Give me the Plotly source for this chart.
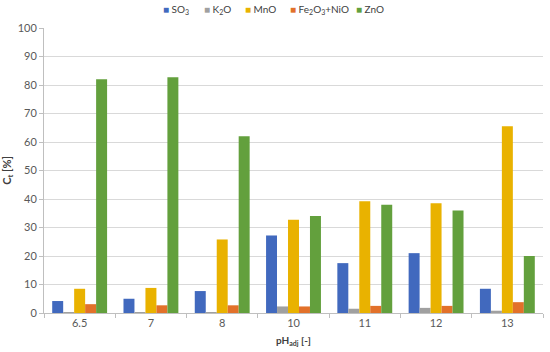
import plotly.graph_objects as go

categories = ["6.5", "7", "8", "10", "11", "12", "13"]
so3 = [4.2, 5.0, 7.7, 27.2, 17.5, 21.0, 8.5]
k2o = [0.3, 0.2, 0.3, 2.3, 1.5, 1.8, 0.8]
mno = [8.5, 8.8, 25.8, 32.7, 39.2, 38.5, 65.5]
fe_ni = [3.1, 2.7, 2.7, 2.3, 2.5, 2.5, 3.8]
zno = [82.0, 82.7, 62.0, 34.0, 38.0, 36.0, 20.0]

series_names = ["SO<sub>3</sub>", "K<sub>2</sub>O", "MnO", "Fe<sub>2</sub>O<sub>3</sub>+NiO", "ZnO"]
series_values = [so3, k2o, mno, fe_ni, zno]
series_colors = ["#4169BE", "#A0A0A0", "#E9B200", "#E2712A", "#63A03D"]
# legend entry start positions (page px, symbol left) in the reference
legend_px = [161, 202, 243, 288, 354]

font = "Lato, 'Open Sans', sans-serif"
L, R, T, B, W, H = 44, 7, 28, 39, 550, 352
pw = W - L - R
ph = H - T - B

fig = go.Figure()
for name, vals, color in zip(series_names, series_values, series_colors):
    fig.add_trace(go.Bar(name=name, x=categories, y=vals, marker_color=color,
                         marker_line_width=0))

annotations = []
for name, color, px in zip(series_names, series_colors, legend_px):
    annotations.append(dict(
        xref="paper", yref="paper", x=(px - L) / pw, y=1 + (T - 9) / ph,
        xanchor="left", yanchor="middle", showarrow=False,
        text=f'<span style="color:{color};font-size:10px">■</span> {name}',
        font=dict(size=10, color="#404040", family=font),
    ))

fig.update_layout(
    width=W, height=H,
    margin=dict(l=L, r=R, t=T, b=B, autoexpand=False),
    plot_bgcolor="white", paper_bgcolor="white",
    barmode="group", bargap=0.23, bargroupgap=0.0,
    font=dict(family=font, size=11, color="#595959"),
    showlegend=False,
    annotations=annotations,
)
fig.update_yaxes(range=[0, 100], dtick=10, showgrid=True, gridcolor="#D9D9D9",
                 showline=True, linecolor="#BFBFBF", ticks="outside", ticklen=4,
                 tickcolor="#BFBFBF", zeroline=False,
                 title=dict(text="<b>C<sub>t</sub> [%]</b>", standoff=4,
                            font=dict(size=11, color="#404040")))
fig.update_xaxes(showline=True, linecolor="#BFBFBF", ticks="outside", tickson="boundaries",
                 ticklen=4, tickcolor="#BFBFBF",
                 title=dict(text="<b>pH<sub>adj</sub> [-]</b>", standoff=8,
                            font=dict(size=10, color="#404040")))
fig.write_html("out.html", config={"displayModeBar": False},
               post_script="document.body.style.margin='0';")
